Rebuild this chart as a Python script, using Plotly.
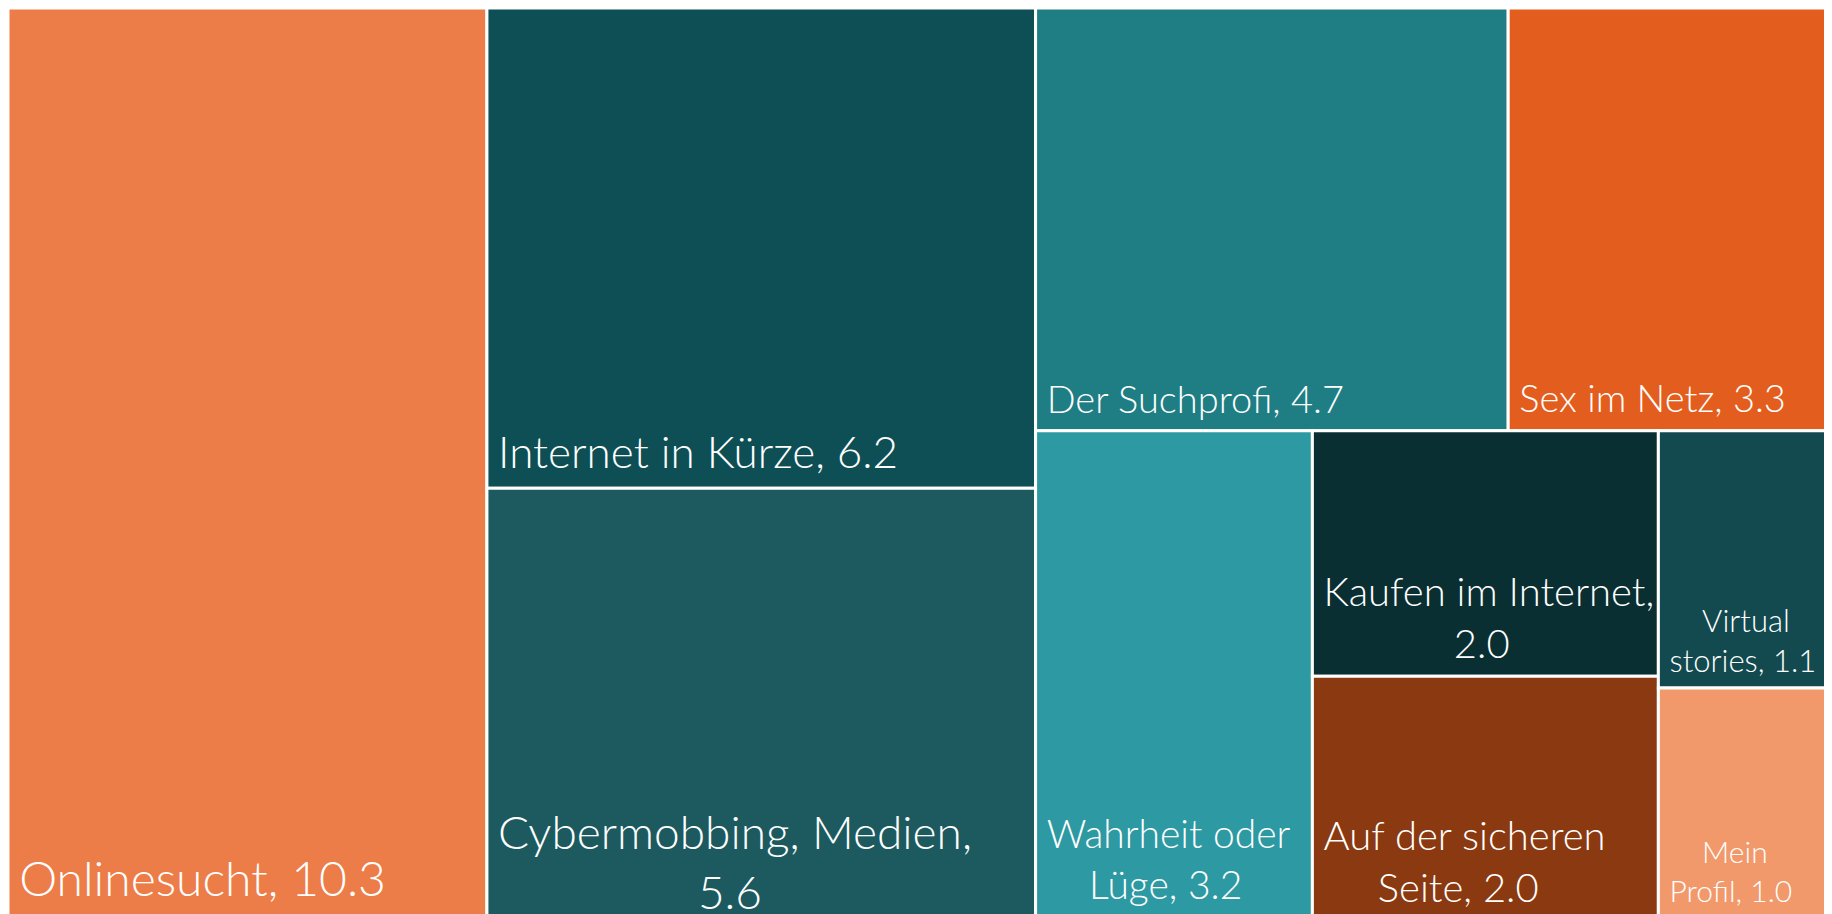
import plotly.graph_objects as go

# Data
labels = ["Onlinesucht", "Internet in Kürze", "Cybermobbing, Medien", "Der Suchprofi",
          "Sex im Netz", "Wahrheit oder Lüge", "Kaufen im Internet",
          "Auf der sicheren Seite", "Virtual stories", "Mein Profil"]
values = [10.3, 6.2, 5.6, 4.7, 3.3, 3.2, 2.0, 2.0, 1.1, 1.0]
# where each label wraps onto a second line (None = single line)
wrap_after = [None, None, "Cybermobbing, Medien,", None, None, "Wahrheit oder",
              "Kaufen im Internet,", "Auf der sicheren", "Virtual", "Mein"]

colors = ["#EC7D48", "#0D4F55", "#1C5A60", "#1E7E83", "#E35E1E",
          "#2D99A2", "#0A2F33", "#8A3911", "#124A4F", "#F2996C"]
font_sizes = [48, 44, 46, 38, 38, 39, 40, 40, 31, 30]
# invisible spacer size (px) that lifts each label off the bottom edge
lift_sizes = [108, 80, 0, 70, 75, 95, 70, 80, 60, 80]

# rough Lato advance widths (em) used to centre the lines of a wrapped label
_narrow = {"i": 0.22, "l": 0.22, "j": 0.22, "t": 0.33, "f": 0.31, "r": 0.34,
           ",": 0.2, ".": 0.2, " ": 0.19, "I": 0.27, "m": 0.83, "w": 0.75,
           "W": 0.95, "M": 0.85}
SPACE_EM = 0.27


def text_width(s):
    w = 0.0
    for ch in s:
        if ch in _narrow:
            w += _narrow[ch]
        elif ch.isdigit():
            w += 0.58
        elif ch.isupper():
            w += 0.66
        else:
            w += 0.52
    return w


LEAD = '<span style="font-size:30px">&nbsp;</span>'

texts = []
for lab, val, w, lift in zip(labels, values, wrap_after, lift_sizes):
    full = f"{lab}, {val:.1f}"
    tail = f'<span style="font-size:{lift}px">&#8202;</span>' if lift else ""
    if w is None:
        texts.append(f"{LEAD}{full}{tail}")
    else:
        rest = full[len(w):].strip()
        diff = (text_width(w) - text_width(rest)) / 2 / SPACE_EM
        pad1 = "&nbsp;" * max(0, round(-diff))
        pad2 = "&nbsp;" * max(0, round(diff))
        texts.append(f"{LEAD}{pad1}{w}<br>{LEAD}{pad2}{rest}{tail}")

root = "Alle"
all_labels = [root] + labels
all_parents = [""] + [root] * len(labels)
all_values = [sum(values)] + values
all_texts = [""] + texts
all_colors = ["white"] + colors
all_sizes = [10] + font_sizes

fig = go.Figure(go.Treemap(
    labels=all_labels,
    parents=all_parents,
    values=all_values,
    branchvalues="total",
    text=all_texts,
    texttemplate="%{text}",
    textposition="bottom left",
    textfont=dict(family="Lato", size=all_sizes, color="white", weight=300),
    marker=dict(colors=all_colors, line=dict(color="white", width=3),
                pad=dict(t=0, l=0, r=0, b=0)),
    tiling=dict(pad=0),
    pathbar=dict(visible=False),
    sort=True,
    hoverinfo="label+value",
))

fig.update_layout(
    width=1832, height=914,
    margin=dict(l=0, r=0, t=0, b=0),
    paper_bgcolor="white",
)

fig.write_html("out.html")
